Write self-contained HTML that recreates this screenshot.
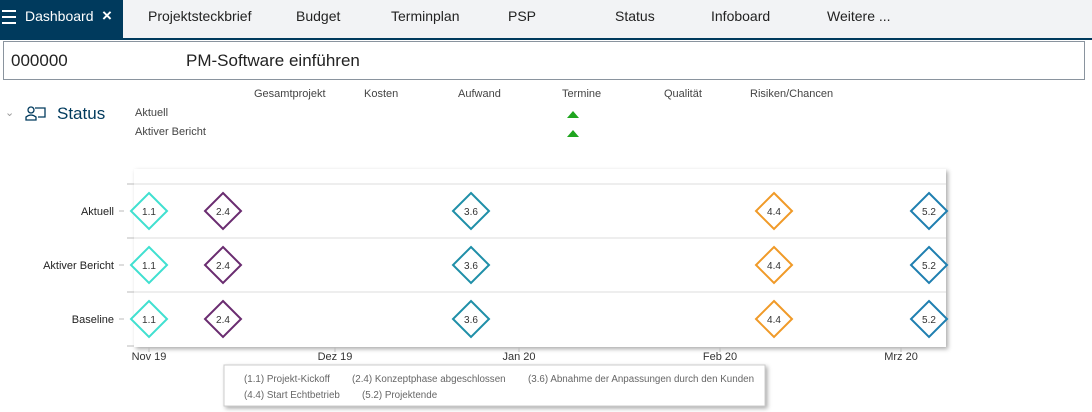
<!DOCTYPE html>
<html><head><meta charset="utf-8"><style>
body{margin:0;width:1092px;height:412px;background:#fff;font-family:"Liberation Sans",sans-serif;position:relative;overflow:hidden;color:#222}
.a{position:absolute;white-space:nowrap}
</style></head><body>
<div class="a" style="left:0;top:0;width:1092px;height:38px;background:#f2f3f5"></div>
<div class="a" style="left:0;top:0;width:123px;height:38px;background:#003a5d"></div>
<div class="a" style="left:0;top:38px;width:1092px;height:2px;background:#003a5d"></div>
<div class="a" style="left:2px;top:10px;width:14px;height:2px;background:#fff;box-shadow:0 6px 0 #fff,0 12px 0 #fff"></div>
<div class="a" style="left:25px;top:8px;font-size:14px;color:#fff">Dashboard</div>
<div class="a" style="left:102px;top:6px;font-size:17px;color:#fff;font-weight:bold">×</div>
<div class="a" style="left:148px;top:8px;font-size:14px">Projektsteckbrief</div>
<div class="a" style="left:296px;top:8px;font-size:14px">Budget</div>
<div class="a" style="left:391px;top:8px;font-size:14px">Terminplan</div>
<div class="a" style="left:508px;top:8px;font-size:14px">PSP</div>
<div class="a" style="left:615px;top:8px;font-size:14px">Status</div>
<div class="a" style="left:711px;top:8px;font-size:14px">Infoboard</div>
<div class="a" style="left:827px;top:8px;font-size:14px">Weitere ...</div>
<div class="a" style="left:3px;top:41px;width:1080px;height:37px;border:1px solid #8a949e"></div>
<div class="a" style="left:11px;top:51px;font-size:17px">000000</div>
<div class="a" style="left:186px;top:51px;font-size:17px">PM-Software einführen</div>
<div class="a" style="left:5px;top:106px;font-size:11px;color:#999">⌄</div>
<svg class="a" style="left:25px;top:106px" width="22" height="16"><circle cx="6" cy="4" r="3" fill="none" stroke="#003a5d" stroke-width="1.3"/><path d="M1 14 v-3 q5-4 10 0 v3 z M10 2 h10 v9 h-7" fill="none" stroke="#003a5d" stroke-width="1.3"/></svg>
<div class="a" style="left:57px;top:104px;font-size:17px;color:#003a5d">Status</div>
<div class="a" style="left:254px;top:88px;font-size:11px;color:#444">Gesamtprojekt</div>
<div class="a" style="left:364px;top:88px;font-size:11px;color:#444">Kosten</div>
<div class="a" style="left:458px;top:88px;font-size:11px;color:#444">Aufwand</div>
<div class="a" style="left:562px;top:88px;font-size:11px;color:#444">Termine</div>
<div class="a" style="left:664px;top:88px;font-size:11px;color:#444">Qualität</div>
<div class="a" style="left:750px;top:88px;font-size:11px;color:#444">Risiken/Chancen</div>
<div class="a" style="left:135px;top:107px;font-size:11px;color:#444">Aktuell</div>
<div class="a" style="left:135px;top:126px;font-size:11px;color:#444">Aktiver Bericht</div>
<svg class="a" style="left:566px;top:110px" width="16" height="30"><path d="M1 8 L7 1 L13 8Z M1 27 L7 20 L13 27Z" fill="#1fa51f"/></svg>
<svg class="a" style="left:0;top:160px" width="1092" height="252" font-family="Liberation Sans, sans-serif">
<rect x="134" y="9" width="812" height="178" fill="#fff" style="filter:drop-shadow(2px 2px 2px #aaa)"/>
<g stroke="#ddd"><line x1="134" y1="24" x2="946" y2="24"/><line x1="134" y1="78" x2="946" y2="78"/><line x1="134" y1="132" x2="946" y2="132"/></g>
<g stroke="#bbb"><line x1="127" y1="24" x2="134" y2="24"/><line x1="127" y1="78" x2="134" y2="78"/><line x1="127" y1="132" x2="134" y2="132"/><line x1="127" y1="186" x2="134" y2="186"/><line x1="119" y1="51" x2="124" y2="51"/><line x1="119" y1="105" x2="124" y2="105"/><line x1="119" y1="159" x2="124" y2="159"/>
<line x1="149" y1="187" x2="149" y2="192"/><line x1="335" y1="187" x2="335" y2="192"/><line x1="519" y1="187" x2="519" y2="192"/><line x1="720" y1="187" x2="720" y2="192"/><line x1="901" y1="187" x2="901" y2="192"/></g>
<g font-size="11" text-anchor="end" fill="#222"><text x="114" y="55">Aktuell</text><text x="114" y="109">Aktiver Bericht</text><text x="114" y="163">Baseline</text></g>
<g font-size="11" text-anchor="middle" fill="#333"><text x="149" y="200">Nov 19</text><text x="335" y="200">Dez 19</text><text x="519" y="200">Jan 20</text><text x="720" y="200">Feb 20</text><text x="901" y="200">Mrz 20</text></g>
<g fill="#fff" stroke-width="2" font-size="10" text-anchor="middle">
<g id="r"><path d="M149 33 l18 18 l-18 18 l-18 -18z" stroke="#40e0d0"/><text x="149" y="55" fill="#333" stroke="none">1.1</text>
<path d="M223 33 l18 18 l-18 18 l-18 -18z" stroke="#6a2c70"/><text x="223" y="55" fill="#333" stroke="none">2.4</text>
<path d="M471 33 l18 18 l-18 18 l-18 -18z" stroke="#1f8fa8"/><text x="471" y="55" fill="#333" stroke="none">3.6</text>
<path d="M774 33 l18 18 l-18 18 l-18 -18z" stroke="#f09a28"/><text x="774" y="55" fill="#333" stroke="none">4.4</text>
<path d="M929 33 l18 18 l-18 18 l-18 -18z" stroke="#1f7fb0"/><text x="929" y="55" fill="#333" stroke="none">5.2</text></g>
<use href="#r" y="54"/><use href="#r" y="108"/></g>
<rect x="224" y="205" width="541" height="41" fill="#fff" stroke="#ccc" style="filter:drop-shadow(2px 2px 2px #aaa)"/>
<g font-size="9.8" fill="#666"><text x="244" y="222">(1.1) Projekt-Kickoff</text><text x="352" y="222">(2.4) Konzeptphase abgeschlossen</text><text x="528" y="222">(3.6) Abnahme der Anpassungen durch den Kunden</text><text x="244" y="238">(4.4) Start Echtbetrieb</text><text x="362" y="238">(5.2) Projektende</text></g>
</svg>
</body></html>
